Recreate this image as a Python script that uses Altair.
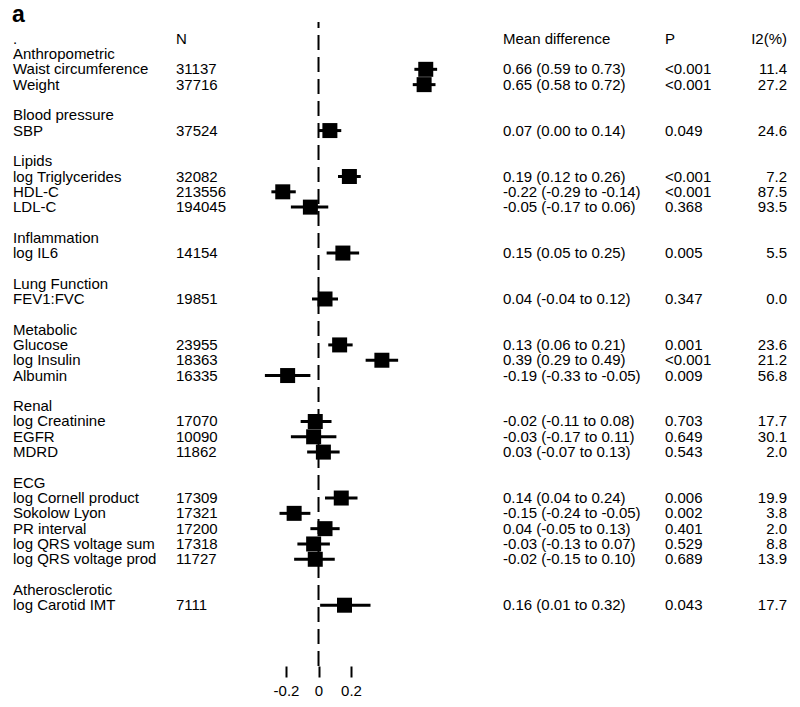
import altair as alt
import pandas as pd

# ---- data ----
groups = ["Anthropometric", "Blood pressure", "Lipids", "Inflammation", "Lung Function",
          "Metabolic", "Renal", "ECG", "Atherosclerotic"]
group_rows = [1, 5, 8, 13, 16, 19, 24, 29, 36]

outcomes = ["Waist circumference", "Weight", "SBP", "log Triglycerides", "HDL-C", "LDL-C",
            "log IL6", "FEV1:FVC", "Glucose", "log Insulin", "Albumin", "log Creatinine",
            "EGFR", "MDRD", "log Cornell product", "Sokolow Lyon", "PR interval",
            "log QRS voltage sum", "log QRS voltage prod", "log Carotid IMT"]
outcome_rows = [2, 3, 6, 9, 10, 11, 14, 17, 20, 21, 22, 25, 26, 27, 30, 31, 32, 33, 34, 37]
n_values = [31137, 37716, 37524, 32082, 213556, 194045, 14154, 19851, 23955, 18363, 16335,
            17070, 10090, 11862, 17309, 17321, 17200, 17318, 11727, 7111]
estimates = [0.66, 0.65, 0.07, 0.19, -0.22, -0.05, 0.15, 0.04, 0.13, 0.39, -0.19, -0.02,
             -0.03, 0.03, 0.14, -0.15, 0.04, -0.03, -0.02, 0.16]
ci_low = [0.59, 0.58, 0.00, 0.12, -0.29, -0.17, 0.05, -0.04, 0.06, 0.29, -0.33, -0.11,
          -0.17, -0.07, 0.04, -0.24, -0.05, -0.13, -0.15, 0.01]
ci_high = [0.73, 0.72, 0.14, 0.26, -0.14, 0.06, 0.25, 0.12, 0.21, 0.49, -0.05, 0.08,
           0.11, 0.13, 0.24, -0.05, 0.13, 0.07, 0.10, 0.32]
p_values = ["<0.001", "<0.001", "0.049", "<0.001", "<0.001", "0.368", "0.005", "0.347",
            "0.001", "<0.001", "0.009", "0.703", "0.649", "0.543", "0.006", "0.002",
            "0.401", "0.529", "0.689", "0.043"]
i2_values = [11.4, 27.2, 24.6, 7.2, 87.5, 93.5, 5.5, 0.0, 23.6, 21.2, 56.8, 17.7, 30.1,
             2.0, 19.9, 3.8, 2.0, 8.8, 13.9, 17.7]
header_labels = [".", "N", "Mean difference", "P", "I2(%)"]
x_ticks = [-0.2, 0, 0.2]

# ---- tables ----
def fmt(v):
    return f"{v:.2f}"

df = pd.DataFrame({
    "label": outcomes,
    "row": outcome_rows,
    "n": [str(v) for v in n_values],
    "est": estimates,
    "lo": ci_low,
    "hi": ci_high,
    "md": [f"{fmt(e)} ({fmt(l)} to {fmt(h)})" for e, l, h in zip(estimates, ci_low, ci_high)],
    "p": p_values,
    "i2": [f"{v:.1f}" for v in i2_values],
})
gdf = pd.DataFrame({"label": groups, "row": group_rows})
hdf = pd.DataFrame({"label": header_labels, "row": [0] * len(header_labels),
                    "col": list(range(len(header_labels)))})

FONT = "Liberation Sans"
FS = 15
Y_SCALE = alt.Scale(domain=[-2.005, 40.97], reverse=True, nice=False, zero=False)
X_SCALE = alt.Scale(domain=[-1.911, 2.914], nice=False, zero=False)
X_AXIS = alt.Axis(values=x_ticks, title=None, domain=False, grid=False, tickSize=11,
                  tickWidth=2, tickColor="black", labelFontSize=FS, labelColor="black",
                  labelFont=FONT, labelPadding=6, labelExpr="'' + datum.value")

y_enc = alt.Y("row:Q", scale=Y_SCALE, axis=None)

base = alt.Chart(df)

ci = base.mark_rule(strokeWidth=3, color="black").encode(
    x=alt.X("lo:Q", scale=X_SCALE, axis=X_AXIS), x2="hi:Q", y=y_enc)
sq = base.mark_square(size=225, color="black", opacity=1).encode(
    x=alt.X("est:Q", scale=X_SCALE, axis=X_AXIS), y=y_enc)

ref = alt.Chart(pd.DataFrame({"x": [0]})).mark_rule(
    strokeDash=[15, 7], strokeDashOffset=9, strokeWidth=2, color="black"
).encode(x=alt.X("x:Q", scale=X_SCALE, axis=X_AXIS), y=alt.value(14), y2=alt.value(658))

def text_layer(data, field, xpos, align="left"):
    return alt.Chart(data).mark_text(
        align=align, baseline="middle", font=FONT, fontSize=FS, color="black"
    ).encode(x=alt.value(xpos), y=y_enc, text=f"{field}:N")

labels_t = text_layer(df, "label", 5)
groups_t = text_layer(gdf, "label", 5)
n_t = text_layer(df, "n", 168)
md_t = text_layer(df, "md", 495)
p_t = text_layer(df, "p", 657)
i2_t = text_layer(df, "i2", 779, align="right")

hdr_pos = [5, 168, 495, 657, 779]
hdr_align = ["left", "left", "left", "left", "right"]
hdr_layers = [
    text_layer(hdf[hdf["col"] == i], "label", hdr_pos[i], hdr_align[i])
    for i in range(len(header_labels))
]

title_a = alt.Chart(pd.DataFrame({"t": ["a"]})).mark_text(
    align="left", baseline="alphabetic", font=FONT, fontSize=23, fontWeight="bold",
    color="black"
).encode(x=alt.value(4), y=alt.value(14), text="t:N")

chart = alt.layer(
    ref, ci, sq, labels_t, groups_t, n_t, md_t, p_t, i2_t, *hdr_layers, title_a
).properties(
    width=784, height=658,
    autosize=alt.AutoSizeParams(type="none"),
    padding={"left": 0, "top": 0, "right": 0, "bottom": 40},
).configure(font=FONT).configure_view(stroke=None)

chart.save("out.html", embed_options={"renderer": "svg", "actions": False})
